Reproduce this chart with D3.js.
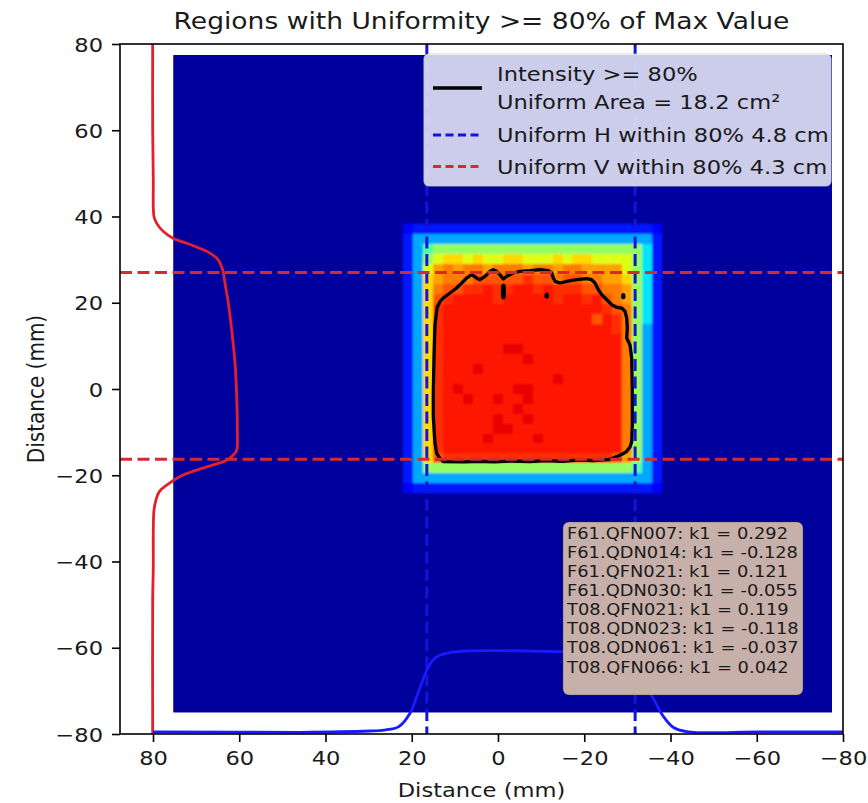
<!DOCTYPE html>
<html>
<head>
<meta charset="utf-8">
<script src="https://cdn.jsdelivr.net/npm/d3@7"></script>
<style>
  body { margin: 0; background: #fff; }
  svg { display: block; }
  text { font-family: "DejaVu Sans", sans-serif; fill: #1a1a1a; }
</style>
</head>
<body>
<svg id="chart" width="868" height="803"></svg>
<script>
// ---- axis data ----
const xTicks = [80, 60, 40, 20, 0, -20, -40, -60, -80];
const yTicks = [-80, -60, -40, -20, 0, 20, 40, 60, 80];
const xDomain = [87.65, -80];
const yDomain = [-80, 80];

// ---- intensity map (66 x 66 cells, jet colour map) ----
const imageExtentX = [75.3, -77.45];
const imageExtentY = [-75.0, 77.45];
const gridSize = 66;
const backgroundLevel = 0.025;
const hotRowStart = 16;
const hotColStart = 22;
// '.' is the background level, letters are increasing intensity levels
const levelKeys = ".abcdefghijklmnop";
const levelValues = [backgroundLevel, 0.06, 0.11, 0.15, 0.29, 0.35, 0.45, 0.53, 0.62, 0.68, 0.74, 0.78, 0.82, 0.86, 0.89, 0.91, 0.95];
const hotRows = [
  "............................",
  ".bccccccccccccccccccccccccb.",
  ".cddddddddddddddddddddddddc.",
  ".cdfgggggggggggggggggggggec.",
  ".cdghiihihhiihhhihiihhhhgec.",
  ".cdhjkjkkjkkkjkkjkkjjjjhgec.",
  ".cdijkkklllllmllkllkkjjigec.",
  ".cdikllmmnmmnnmnmmmllkkjgec.",
  ".cdilmnnnnmnnnnnmnnmnlkjgec.",
  ".cdimnnnnnnnnnnnnnnnnmlkgec.",
  ".cdimnnnnnnnnnnnnnnnlnmkgec.",
  ".cdimnnnnnnnnnnnnnnnnnmkgdc.",
  ".cdimnnnnnnnnnnnnnnnnnnkgdc.",
  ".cdimnnnnnnoonnnnnnnnnnkgdc.",
  ".cdimnnnnnnnnonnnnnnnnnkgdc.",
  ".cdimnnnonnnnnnnnnnnnnnkgdc.",
  ".cdimnnnnnnnnnnnonnnnnnkgdc.",
  ".cdimnonnnnnoonnnnnnnnnkgdc.",
  ".cdimnnonnonnonnnnnnnnnkgdc.",
  ".cdimnnnnnnnonnnnnnnnnnkgdc.",
  ".cdimnnnnnonnonnnnnnnnnkgdc.",
  ".cdimnnnnnoonnnnnnnnnnnkgdc.",
  ".cdimnnnnonnnnonnnnnnnnkgdc.",
  ".cdimnnnnnnnnnnnnnnnnnnkgdc.",
  ".cdilmmmmmmmmmmmmmmmmmljgdc.",
  ".cdgggggggggggggggggggggfdc.",
  ".cddddddddddddddddddddddddc.",
  ".bccccccccccccccccccccccccb.",
  "............................"
];

// ---- 80 % iso-intensity contour (mm) ----
const contourPoints = [
  [15.00, -6.42], [15.00, -0.63], [14.84, 7.19], [14.61, 14.84], [14.14, 18.78], [13.45, 20.24],
  [12.68, 21.10], [11.13, 22.26], [9.58, 23.42], [8.42, 24.58], [7.26, 25.74], [6.10, 26.50],
  [4.94, 25.74], [4.17, 25.34], [3.01, 26.13], [1.86, 27.29], [1.09, 27.66], [0.30, 27.29],
  [-0.46, 26.50], [-1.23, 25.50], [-2.02, 26.13], [-3.55, 26.90], [-5.10, 27.29], [-7.42, 27.43],
  [-9.74, 27.66], [-11.66, 27.43], [-12.45, 26.90], [-12.82, 25.74], [-13.22, 24.97], [-14.38, 24.58],
  [-15.93, 24.97], [-18.25, 25.34], [-20.57, 25.58], [-21.73, 25.34], [-22.49, 24.58], [-23.26, 23.03],
  [-24.05, 21.87], [-24.81, 21.10], [-25.58, 20.34], [-26.36, 19.55], [-27.52, 18.94], [-28.68, 18.78],
  [-29.45, 18.02], [-29.84, 16.46], [-29.98, 14.14], [-29.84, 11.83], [-30.61, 10.20], [-31.00, 7.19],
  [-31.14, -0.63], [-31.14, -8.35], [-31.00, -12.22], [-30.61, -13.45], [-29.68, -14.61], [-28.29, -15.37],
  [-25.97, -16.30], [-22.0, -16.60], [-19.0, -16.45], [-15.0, -16.75], [-11.0, -16.60], [-7.42, -16.86],
  [-3.0, -16.70], [1.0, -16.90], [4.17, -16.75], [8.0, -16.90], [12.68, -16.86], [13.45, -16.07],
  [14.21, -14.91], [14.61, -12.59], [15.00, -6.42]
];
// small enclosed regions below the threshold
const contourHoles = [
  [[-1.05, 24.0], [-1.45, 24.0], [-1.55, 22.6], [-1.45, 21.2], [-1.05, 21.2], [-0.95, 22.6]],
  [[-11.15, 22.0], [-11.45, 22.0], [-11.5, 21.3], [-11.1, 21.3]],
  [[-28.9, 21.9], [-29.2, 21.9], [-29.25, 21.2], [-28.85, 21.2]]
];

// ---- uniform extents (mm) ----
const uniformH = [16.5, -31.8];
const uniformV = [27.0, -16.3];
const uniformAreaCm2 = 18.2;
const thresholdPct = 80;

// ---- edge profiles (mm) ----
const vProfileY = [80, 60, 48.5, 40, 38.4, 36.5, 34.9, 33.8, 32.6, 31.5, 29.9, 27.6, 24.5, 19.9, 13.7, 6.0,
  -1.8, -9.5, -14.2, -15.3, -16.5, -17.6, -18.8, -20.3, -22.3, -23.8, -25.7, -28.1, -33.5, -41.2, -48.9, -80];
const vProfileX = [80.07, 80.07, 79.93, 79.77, 79.14, 77.59, 75.27, 72.18, 69.10, 66.78, 64.85, 63.83, 63.30, 62.52, 61.75, 60.98,
  60.59, 60.45, 60.59, 61.37, 62.91, 66.00, 69.87, 73.74, 76.83, 78.54, 79.30, 79.77, 79.93, 79.93, 80.07, 80.07];
const hProfileX = [80, 45.9, 29.7, 26.4, 23.0, 20.4, 18.85, 17.7, 16.5, 15.0, 13.45, 11.1, 7.3, -3.6, -14.4, -23.7,
  -29.5, -32.2, -34.3, -36.2, -38.4, -40.7, -44.1, -60.8, -80];
const hProfileY = [-79.5, -79.6, -79.3, -79.1, -78.3, -75.2, -71.35, -68.2, -65.2, -62.8, -61.7, -61.1, -60.75, -60.7, -60.9, -61.1,
  -61.7, -64.0, -68.6, -72.1, -76.0, -78.5, -79.5, -79.5, -79.5];

// ---- quadrupole settings shown in the note box ----
const magnetNames = ["F61.QFN007", "F61.QDN014", "F61.QFN021", "F61.QDN030", "T08.QFN021", "T08.QDN023", "T08.QDN061", "T08.QFN066"];
const k1Values = [0.292, -0.128, 0.121, -0.055, 0.119, -0.118, -0.037, 0.042];

// ---- layout ----
const plot = { left: 120, right: 843, top: 44, bottom: 734 };
const SX = 1.13;           // horizontal glyph stretch
const COLORS = { hLine: "#1414d8", vLine: "#d42b33", hProf: "#1a1aff", vProf: "#e3202c" };

const svg = d3.select("#chart");
const x = d3.scaleLinear().domain(xDomain).range([plot.left, plot.right]);
const y = d3.scaleLinear().domain(yDomain).range([plot.bottom, plot.top]);

// jet colour map
const jetR = d3.scaleLinear().domain([0, 0.35, 0.66, 0.89, 1]).range([0, 0, 1, 1, 0.5]).clamp(true);
const jetG = d3.scaleLinear().domain([0, 0.125, 0.375, 0.64, 0.91, 1]).range([0, 0, 1, 1, 0, 0]).clamp(true);
const jetB = d3.scaleLinear().domain([0, 0.11, 0.34, 0.65, 1]).range([0.5, 1, 1, 0, 0]).clamp(true);
const jet = v => d3.rgb(jetR(v) * 255, jetG(v) * 255, jetB(v) * 255).toString();

const defs = svg.append("defs");
defs.append("clipPath").attr("id", "plotClip")
  .append("rect").attr("x", plot.left).attr("y", plot.top)
  .attr("width", plot.right - plot.left).attr("height", plot.bottom - plot.top);
defs.append("clipPath").attr("id", "imageClip")
  .append("rect").attr("x", x(imageExtentX[0])).attr("y", y(imageExtentY[1]))
  .attr("width", x(imageExtentX[1]) - x(imageExtentX[0])).attr("height", y(imageExtentY[0]) - y(imageExtentY[1]));
defs.append("filter").attr("id", "soft").attr("x", "-2%").attr("y", "-2%").attr("width", "104%").attr("height", "104%")
  .append("feGaussianBlur").attr("stdDeviation", 0.9);

// cells
const cells = [];
for (let r = 0; r < gridSize; r++) {
  for (let c = 0; c < gridSize; c++) {
    let v = backgroundLevel;
    const hr = r - hotRowStart, hc = c - hotColStart;
    if (hr >= 0 && hr < hotRows.length && hc >= 0 && hc < hotRows[hr].length) {
      v = levelValues[levelKeys.indexOf(hotRows[hr][hc])];
    }
    cells.push({ r, c, v });
  }
}
const cellX = d3.scaleLinear().domain([0, gridSize]).range(imageExtentX);
const cellY = d3.scaleLinear().domain([0, gridSize]).range([imageExtentY[1], imageExtentY[0]]);

const plotG = svg.append("g").attr("clip-path", "url(#plotClip)");
const imgG = plotG.append("g").attr("clip-path", "url(#imageClip)");
imgG.append("rect").attr("x", x(imageExtentX[0])).attr("y", y(imageExtentY[1]))
  .attr("width", x(imageExtentX[1]) - x(imageExtentX[0])).attr("height", y(imageExtentY[0]) - y(imageExtentY[1]))
  .attr("fill", jet(backgroundLevel));
imgG.append("g").attr("filter", "url(#soft)").attr("shape-rendering", "crispEdges")
  .selectAll("rect").data(cells).join("rect")
  .attr("x", d => x(cellX(d.c)))
  .attr("y", d => y(cellY(d.r)))
  .attr("width", d => x(cellX(d.c + 1)) - x(cellX(d.c)) + 0.6)
  .attr("height", d => y(cellY(d.r + 1)) - y(cellY(d.r)) + 0.6)
  .attr("fill", d => jet(d.v));

// contour
const lineMM = d3.line().x(d => x(d[0])).y(d => y(d[1]));
plotG.append("path").datum(contourPoints)
  .attr("d", lineMM.curve(d3.curveLinear))
  .attr("fill", "none").attr("stroke", "#000").attr("stroke-width", 3.3).attr("stroke-linejoin", "round");
plotG.selectAll("path.hole").data(contourHoles).join("path").attr("class", "hole")
  .attr("d", d3.line().x(d => x(d[0])).y(d => y(d[1])).curve(d3.curveCardinalClosed))
  .attr("fill", "#000").attr("stroke", "#000").attr("stroke-width", 2.5);

// uniform extent lines
plotG.selectAll("line.h").data(uniformH).join("line").attr("class", "h")
  .attr("x1", d => x(d)).attr("x2", d => x(d)).attr("y1", y(yDomain[1])).attr("y2", y(yDomain[0]))
  .attr("stroke", COLORS.hLine).attr("stroke-width", 3).attr("stroke-dasharray", "12,5.5");
plotG.selectAll("line.v").data(uniformV).join("line").attr("class", "v")
  .attr("y1", d => y(d)).attr("y2", d => y(d)).attr("x1", x(xDomain[0])).attr("x2", x(xDomain[1]))
  .attr("stroke", COLORS.vLine).attr("stroke-width", 3).attr("stroke-dasharray", "12,5.5");

// profiles
const curveLine = d3.line().x(d => x(d[0])).y(d => y(d[1])).curve(d3.curveCatmullRom);
plotG.append("path").datum(vProfileY.map((v, i) => [vProfileX[i], v]))
  .attr("d", curveLine).attr("fill", "none").attr("stroke", COLORS.vProf).attr("stroke-width", 2.8);
plotG.append("path").datum(hProfileX.map((v, i) => [v, hProfileY[i]]))
  .attr("d", curveLine).attr("fill", "none").attr("stroke", COLORS.hProf).attr("stroke-width", 2.8);

// axes
const fmt = d => (d < 0 ? "\u2212" + Math.abs(d) : String(d));
const xAxis = svg.append("g").attr("transform", `translate(0,${plot.bottom})`)
  .call(d3.axisBottom(x).tickValues(xTicks).tickFormat(fmt).tickSize(8).tickSizeOuter(0).tickPadding(9));
const yAxis = svg.append("g").attr("transform", `translate(${plot.left},0)`)
  .call(d3.axisLeft(y).tickValues(yTicks).tickFormat(fmt).tickSize(8).tickSizeOuter(0).tickPadding(9));
[xAxis, yAxis].forEach(a => {
  a.select(".domain").remove();
  a.selectAll(".tick line").attr("stroke", "#000").attr("stroke-width", 1.6);
  a.selectAll(".tick text").attr("font-size", 20).attr("font-family", "DejaVu Sans").attr("fill", "#1a1a1a");
});
xAxis.selectAll(".tick text").attr("transform", `scale(${SX},1)`).attr("dy", "0.71em");
yAxis.selectAll(".tick text").attr("x", -17 / SX).attr("transform", `scale(${SX},1)`).attr("dy", "0.36em");

svg.append("rect").attr("x", plot.left).attr("y", plot.top)
  .attr("width", plot.right - plot.left).attr("height", plot.bottom - plot.top)
  .attr("fill", "none").attr("stroke", "#000").attr("stroke-width", 1.6);

function label(parent, px, py, str, size, anchor, extra) {
  return parent.append("text")
    .attr("transform", `translate(${px},${py})${extra || ""} scale(${SX},1)`)
    .attr("font-size", size).attr("text-anchor", anchor).text(str);
}

// titles
label(svg, (plot.left + plot.right) / 2, 29, `Regions with Uniformity >= ${thresholdPct}% of Max Value`, 23.5, "middle");
label(svg, (plot.left + plot.right) / 2, 797, "Distance (mm)", 20, "middle");
svg.append("text")
  .attr("transform", `translate(44,${(plot.top + plot.bottom) / 2}) rotate(-90) scale(1,${SX})`)
  .attr("font-size", 20).attr("text-anchor", "middle").text("Distance (mm)");

// legend
const lg = svg.append("g");
lg.append("rect").attr("x", 424).attr("y", 54).attr("width", 407).attr("height", 132).attr("rx", 5)
  .attr("fill", "rgba(255,255,255,0.8)").attr("stroke", "rgba(204,204,204,0.8)").attr("stroke-width", 1.2);
const widthH = Math.abs(uniformH[0] - uniformH[1]) / 10;
const widthV = Math.abs(uniformV[0] - uniformV[1]) / 10;
const legendItems = [
  { lines: [`Intensity >= ${thresholdPct}%`, `Uniform Area = ${uniformAreaCm2.toFixed(1)} cm\u00b2`], color: "#000", dash: null, cy: 88 },
  { lines: [`Uniform H within ${thresholdPct}% ${widthH.toFixed(1)} cm`], color: COLORS.hLine, dash: "8,4.5", cy: 135 },
  { lines: [`Uniform V within ${thresholdPct}% ${widthV.toFixed(1)} cm`], color: COLORS.vLine, dash: "8,4.5", cy: 166.5 }
];
legendItems.forEach(it => {
  lg.append("line").attr("x1", 433).attr("x2", 482).attr("y1", it.cy).attr("y2", it.cy)
    .attr("stroke", it.color).attr("stroke-width", it.dash ? 3 : 3.6).attr("stroke-dasharray", it.dash);
  const n = it.lines.length;
  it.lines.forEach((s, i) => {
    label(lg, 497, it.cy + (i - (n - 1) / 2) * 27.7 + 7.2, s, 20, "start");
  });
});

// note box
const nb = svg.append("g");
nb.append("rect").attr("x", 563).attr("y", 522).attr("width", 240).attr("height", 173).attr("rx", 6)
  .attr("fill", "rgb(200,176,170)").attr("stroke", "rgba(90,60,60,0.35)").attr("stroke-width", 1);
magnetNames.forEach((name, i) => {
  label(nb, 567, 533.3 + i * 19.06 + 5.8, `${name}: k1 = ${k1Values[i].toFixed(3)}`, 15.8, "start");
});
</script>
</body>
</html>
